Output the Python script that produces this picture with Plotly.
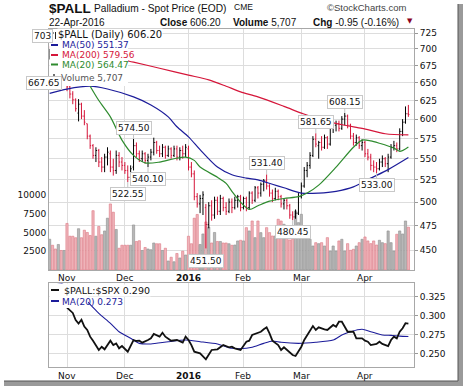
import math
import pandas as pd
import plotly.graph_objects as go

# ---------------- data ----------------
HOLIDAYS = {"2015-11-26", "2015-12-25", "2016-01-01", "2016-01-18", "2016-02-15", "2016-03-25"}
DATES = [d for d in pd.bdate_range("2015-10-23", "2016-04-22") if d.strftime("%Y-%m-%d") not in HOLIDAYS]

OPEN = [688, 696, 690, 680, 686, 676,
        662, 644, 634, 626, 608, 620, 604, 594, 578, 566, 554, 560, 546, 540, 552, 556, 540, 536, 554, 546,
        542, 536, 528, 540, 566, 556, 550, 556, 548, 552, 558, 570, 560, 556, 564, 554, 562, 554, 562, 552,
        560, 556, 562, 540, 532, 506, 498, 504, 494, 476, 496, 486, 502, 490, 504, 494, 490, 500, 494, 502,
        506, 494, 504, 494, 510, 502, 516, 510, 520, 524, 518, 510, 504, 512, 506, 498, 502, 496, 486, 484,
        488, 506, 518, 536, 542, 554, 574, 566, 570, 564, 576, 568, 590, 592, 594, 588, 600, 604, 592, 578,
        570, 576, 566, 570, 556, 552, 542, 540, 538, 546, 550, 544, 552, 564, 566, 562, 584, 596, 607]
HIGH = [700, 703, 694, 690, 690, 684,
        664, 650, 638, 628, 627, 622, 612, 594, 580, 568, 564, 562, 552, 556, 564, 560, 550, 560, 558, 552,
        546, 542, 542, 574.5, 570, 560, 560, 558, 556, 562, 576, 572, 566, 568, 566, 566, 564, 566, 566, 564,
        566, 568, 566, 546, 536, 510, 508, 512, 498, 500, 502, 506, 506, 508, 506, 500, 504, 504, 506, 508,
        508, 506, 506, 512, 512, 518, 518, 522, 526, 531.4, 520, 514, 516, 514, 508, 504, 504, 498, 490, 492,
        510, 522, 540, 546, 558, 578, 581.65, 572, 578, 580, 578, 594, 596, 598, 598, 604, 608.15, 606, 594, 582,
        580, 578, 574, 572, 562, 556, 548, 546, 550, 554, 552, 556, 568, 572, 570, 588, 600, 617, 619]
LOW = [684, 686, 676, 667.65, 672, 668,
       638, 628, 620, 610, 597, 600, 592, 574, 562, 550, 546, 540, 534, 534, 542, 534, 530, 532, 540, 536,
       532, 522.55, 525, 536, 552, 546, 546, 544, 540.1, 548, 554, 556, 552, 552, 550, 552, 550, 552, 548, 548,
       550, 552, 536, 528, 502, 494, 488, 486, 451.5, 472, 480, 482, 486, 486, 490, 486, 488, 488, 492, 494,
       490, 492, 490, 492, 498, 500, 504, 506, 512, 514, 506, 500, 502, 502, 494, 492, 492, 482, 480.45, 482,
       486, 504, 516, 528, 538, 552, 564, 550, 560, 562, 562, 566, 582, 584, 584, 586, 592, 588, 574, 566,
       566, 562, 560, 552, 548, 536, 534, 533, 536, 540, 540, 534, 550, 560, 558, 560, 578, 594, 603]
CLOSE = [696, 690, 680, 686, 676, 680,
         644, 634, 626, 614, 620, 604, 596, 578, 566, 554, 560, 546, 540, 552, 558, 540, 536, 554, 546, 542,
         536, 528, 538, 566, 556, 550, 556, 548, 552, 558, 570, 560, 556, 564, 554, 562, 554, 562, 552, 560,
         556, 564, 540, 532, 506, 498, 504, 508, 476, 496, 486, 502, 490, 504, 494, 490, 500, 494, 502, 506,
         494, 504, 494, 510, 502, 516, 510, 520, 524, 518, 510, 504, 512, 506, 498, 502, 496, 486, 484, 488,
         506, 518, 536, 542, 554, 574, 568, 570, 564, 576, 568, 590, 592, 594, 588, 600, 604, 592, 578, 570,
         576, 566, 570, 556, 552, 542, 540, 538, 546, 550, 544, 552, 564, 566, 562, 584, 596, 607.15, 606.2]
VOLUME = [4100, 3300, 2800, 3400, 2600, 2600,
          6200, 4500, 4500, 4300, 5500, 4300, 5300, 5000, 4600, 7900, 4500, 5800, 4700, 5200, 6900, 8800, 7700,
          5400, 2900, 3300, 3300, 3300, 3300, 6000, 3800, 3900, 2600, 3000, 2800, 2700, 3600, 3500, 3500, 2600,
          2900, 1200, 1700, 1100, 2200, 1600, 2500, 2000, 4500, 3500, 6900, 7400, 3400, 4800, 6400, 5700, 3600,
          5000, 3800, 3800, 3600, 3600, 3500,
          3290, 3330, 3870, 3960, 3870, 5640, 5200, 6530, 4310, 6530, 4980, 4310, 5640, 4980, 4530, 4530, 6760,
          6530, 6090, 4530, 4000, 4090, 7870, 6310, 7420, 4980, 4760, 4090, 3200, 3640, 3510, 3640, 3200, 4310,
          2530, 3200, 2530, 3870, 4090, 2530, 3510, 2620, 2760, 3200, 3640, 4090, 4400, 3870, 3510, 3870, 3330,
          3960, 3640, 3510, 5200, 3640, 2530, 4760, 5200, 4800, 6530, 5707]

# moving averages / ratio, at trading-day offsets from 2 Nov 2015
MA200_DAY = [-6, 5, 15, 23, 32, 42, 49, 55, 60, 66, 75, 81, 87, 96, 102, 110, 118]
MA200_VAL = [703, 696, 688, 680, 671, 661, 654, 645, 637, 630, 617, 608, 600, 592, 588, 581, 579.56]
MA50_DAY = [-6, 0, 8, 14, 23, 29, 35, 38, 42, 46, 52, 57, 62, 66, 71, 75, 81, 87, 93, 99, 105, 111, 118]
MA50_VAL = [635, 641, 645, 641, 630, 619, 603, 590, 577, 561, 540, 531, 527, 525, 520, 516, 510, 510, 512, 517,
            527, 537, 551.37]
MA20_DAY = [8, 11, 15, 19, 23, 27, 32, 37, 41, 44, 46, 52, 55, 57, 60, 63, 66, 70, 75, 80, 83, 87, 93, 99, 102,
            105, 108, 113, 115, 118]
MA20_VAL = [645, 625, 603, 573, 554, 545, 546, 550, 552, 548, 540, 528, 521, 512, 500, 492, 496, 501, 504, 506,
            510, 519, 540, 564, 573, 572, 569, 563, 559, 564.47]

RATIO_DAY = [0, 2, 3, 4, 5, 6, 7, 8, 9, 11, 12, 13, 15, 16, 17, 18, 19, 21, 23, 24, 25, 26, 28, 29, 30, 32, 33,
             34, 36, 38, 40, 41, 42, 43, 44, 46, 48, 49, 50, 52, 54, 56, 57, 58, 60, 62, 63, 64, 66, 67, 68, 69,
             70, 71, 73, 74, 75, 77, 78, 79, 80, 81, 82, 83, 85, 86, 87, 89, 90, 92, 93, 94, 95, 96, 97, 99, 100,
             102, 103, 104, 105, 107, 108, 109, 111, 112, 113, 114, 115, 116, 117, 118]
RATIO_VAL = [.311, .304, .2947, .290, .295, .286, .2816, .2728, .2675, .2553, .2596, .2562, .2675, .2618, .264,
             .2575, .2605, .253, .2684, .2671, .2675, .2649, .2684, .2706, .2763, .2728, .278, .2728, .2675, .2684,
             .2649, .2728, .2684, .2618, .253, .2509, .243, .2487, .2553, .2562, .2618, .2588, .2596, .2575, .2553,
             .2662, .2675, .275, .278, .2793, .2825, .2851, .2772, .2675, .2618, .2553, .2588, .2517, .2487, .2474,
             .253, .2596, .2684, .275, .2868, .2816, .2851, .2825, .2816, .2882, .2859, .2925, .2925, .2859, .2793,
             .2793, .2706, .2706, .2675, .2662, .2618, .2632, .2662, .2632, .2605, .2684, .2728, .2706, .2793,
             .2838, .2905, .2900]
RATIO_MA_DAY = [-6, -2, 3, 7, 11, 15, 18, 22, 25, 29, 35, 41, 46, 52, 57, 62, 64, 68, 71, 74, 80, 86, 92, 95,
                98, 102, 105, 109, 112, 115, 118]
RATIO_MA_VAL = [.345, .343, .330, .3188, .3035, .2904, .2793, .2706, .264, .2632, .2662, .2684, .2662, .2632,
                .2575, .2575, .2588, .264, .2671, .2654, .264, .2654, .2684, .275, .2793, .2825, .2793, .275,
                .2745, .2735, .273]

PRICE_TICKS = list(range(450, 726, 25))
VOLUME_TICKS = [2500, 5000, 7500, 10000]
RATIO_TICKS = [0.250, 0.275, 0.300, 0.325]
MONTH_TEXT = {11: "Nov", 12: "Dec", 1: "<b>2016</b>", 2: "Feb", 3: "Mar", 4: "Apr"}
# (trading-day offset from 2 Nov 2015, 'high' or 'low') of the labelled turning points
MARKED = [(23, "high"), (28, "low"), (21, "low"), (48, "low"), (69, "high"), (78, "low"),
          (86, "high"), (96, "high"), (107, "low")]

# ---------------- helpers ----------------
N = len(DATES)
POS = list(range(N))
DAY0 = [d.strftime("%Y-%m-%d") for d in DATES].index("2015-11-02")
MONTH_POS = [i for i in range(1, N) if DATES[i].month != DATES[i - 1].month]
MONTH_LBL = [MONTH_TEXT[DATES[i].month] for i in MONTH_POS]
YEAR_POS = [i for i in MONTH_POS if DATES[i].month == 1][0]


def dpos(days):
    return [DAY0 + d for d in days]


RED = "#d5163a"
BLUE = "#1c1c9a"
GREEN = "#2e8b2e"
GRID = "#dddddd"
FONT = "DejaVu Sans"
HFONT = "Liberation Sans"


# pixel helpers for text/decoration placement (plot area x 49..414, y 29..367)
def PX(x):
    return (x - 49) / 365.0


def PY(y):
    return (367 - y) / 338.0


up = [True] + [CLOSE[i] >= CLOSE[i - 1] for i in range(1, N)]
vol_fill = ["#b7b7b7" if u else "#efb4ba" for u in up]
vol_line = ["#8f8f8f" if u else "#de7884" for u in up]

fig = go.Figure()

fig.add_trace(go.Bar(x=POS, y=VOLUME, xaxis="x", yaxis="y", width=0.78,
                     marker=dict(color=vol_fill, line=dict(color=vol_line, width=0.6)),
                     showlegend=False, hoverinfo="skip"))
fig.add_trace(go.Scatter(x=dpos(MA200_DAY), y=MA200_VAL, xaxis="x", yaxis="y3", mode="lines",
                         line=dict(color=RED, width=1.2, shape="spline", smoothing=0.8), showlegend=False))
fig.add_trace(go.Scatter(x=dpos(MA50_DAY), y=MA50_VAL, xaxis="x", yaxis="y3", mode="lines",
                         line=dict(color=BLUE, width=1.2, shape="spline", smoothing=0.8), showlegend=False))
fig.add_trace(go.Scatter(x=dpos(MA20_DAY), y=MA20_VAL, xaxis="x", yaxis="y3", mode="lines",
                         line=dict(color=GREEN, width=1.2, shape="spline", smoothing=0.8), showlegend=False))
fig.add_trace(go.Ohlc(x=POS, open=OPEN, high=HIGH, low=LOW, close=CLOSE, xaxis="x", yaxis="y3",
                      increasing=dict(line=dict(color="#000000", width=1)),
                      decreasing=dict(line=dict(color=RED, width=1)),
                      tickwidth=0.35, showlegend=False))

fig.add_trace(go.Scatter(x=dpos(RATIO_MA_DAY), y=RATIO_MA_VAL, xaxis="x2", yaxis="y2", mode="lines",
                         line=dict(color=BLUE, width=1.1, shape="spline", smoothing=0.6), showlegend=False))
fig.add_trace(go.Scatter(x=dpos(RATIO_DAY), y=RATIO_VAL, xaxis="x2", yaxis="y2", mode="lines",
                         line=dict(color="#111111", width=1.8), showlegend=False))

xr = [-0.22, 125.94]
axis_common = dict(range=xr, tickvals=MONTH_POS, showticklabels=False, showgrid=True, gridcolor=GRID,
                   gridwidth=1, showline=True, linecolor="#a8a8a8", mirror=True, ticks="",
                   zeroline=False, fixedrange=True, automargin=False)

price_lo, price_hi = 430.7, 731.4
fig.update_layout(
    width=464, height=387, margin=dict(l=49, r=50, t=29, b=20, pad=0, autoexpand=False),
    paper_bgcolor="white", plot_bgcolor="white",
    xaxis=dict(axis_common, domain=[0, 1], anchor="y", rangeslider=dict(visible=False)),
    xaxis2=dict(axis_common, domain=[0, 1], anchor="y2", matches="x"),
    yaxis=dict(domain=[0.287, 1], range=[0, 32100], side="left", tickvals=VOLUME_TICKS,
               ticktext=[str(v) for v in VOLUME_TICKS],
               showgrid=False, zeroline=False, showline=True, linecolor="#a8a8a8", mirror=True,
               ticks="", tickfont=dict(family=FONT, size=9, color="#111")),
    yaxis3=dict(overlaying="y", side="right", type="log",
                range=[math.log10(price_lo), math.log10(price_hi)], tickvals=PRICE_TICKS,
                ticktext=[str(v) for v in PRICE_TICKS],
                showgrid=True, gridcolor=GRID, zeroline=False, showline=False,
                ticks="outside", ticklen=3, tickcolor="#999",
                tickfont=dict(family=FONT, size=9, color="#111")),
    yaxis2=dict(domain=[0, 0.2485], range=[0.2329, 0.3434], side="right", tickvals=RATIO_TICKS,
                ticktext=[f"{t:.3f}" for t in RATIO_TICKS], showgrid=True, gridcolor=GRID,
                zeroline=False, showline=True, linecolor="#a8a8a8", mirror=True,
                ticks="outside", ticklen=3, tickcolor="#999",
                tickfont=dict(family=FONT, size=9, color="#111")),
    showlegend=False,
)

shapes = []
# darker year-boundary grid line in both panels
for xa, ya in (("x", "y"), ("x2", "y2")):
    shapes.append(dict(type="line", xref=xa, yref=f"{ya} domain", x0=YEAR_POS, x1=YEAR_POS, y0=0, y1=1,
                       line=dict(color="#b4b4b4", width=1), layer="below"))
# white legend backgrounds
shapes.append(dict(type="rect", xref="paper", yref="paper", x0=PX(49.5), x1=PX(128), y0=PY(86), y1=PY(29.5),
                   fillcolor="white", line=dict(width=0), layer="above"))
shapes.append(dict(type="rect", xref="paper", yref="paper", x0=PX(49.5), x1=PX(88), y0=PY(308), y1=PY(283.5),
                   fillcolor="white", line=dict(width=0), layer="above"))
# legend swatches
for yy, col in ((45, BLUE), (55, RED), (64.5, GREEN)):
    shapes.append(dict(type="line", xref="paper", yref="paper", x0=PX(51), x1=PX(58), y0=PY(yy), y1=PY(yy),
                       line=dict(color=col, width=2), layer="above"))
shapes.append(dict(type="line", xref="paper", yref="paper", x0=PX(51), x1=PX(59), y0=PY(290), y1=PY(290),
                   line=dict(color="#111", width=2), layer="above"))
shapes.append(dict(type="line", xref="paper", yref="paper", x0=PX(51), x1=PX(59), y0=PY(301), y1=PY(301),
                   line=dict(color=BLUE, width=2), layer="above"))
# ohlc icon
for x0, x1, y0, y1 in ((52, 52, 31, 40), (50, 52, 37, 37), (52, 54, 33, 33), (55.5, 55.5, 32, 39)):
    shapes.append(dict(type="line", xref="paper", yref="paper", x0=PX(x0), x1=PX(x1), y0=PY(y0), y1=PY(y1),
                       line=dict(color="#222", width=1), layer="above"))
# volume icon
for x0, x1, yt in ((50, 52, 77), (53, 55, 74), (56, 58, 76)):
    shapes.append(dict(type="rect", xref="paper", yref="paper", x0=PX(x0), x1=PX(x1), y0=PY(82), y1=PY(yt),
                       fillcolor="#707070", line=dict(width=0), layer="above"))
# card shadow
shapes.append(dict(type="rect", xref="paper", yref="paper", x0=PX(458), x1=PX(463), y0=PY(386), y1=PY(4),
                   fillcolor="#9a9a9a", line=dict(width=0), layer="above"))
shapes.append(dict(type="rect", xref="paper", yref="paper", x0=PX(4), x1=PX(463), y0=PY(386), y1=PY(381),
                   fillcolor="#9a9a9a", line=dict(width=0), layer="above"))
shapes.append(dict(type="line", xref="paper", yref="paper", x0=PX(458), x1=PX(458), y0=PY(381), y1=PY(4),
                   line=dict(color="#555", width=1), layer="above"))
shapes.append(dict(type="line", xref="paper", yref="paper", x0=PX(4), x1=PX(458), y0=PY(381), y1=PY(381),
                   line=dict(color="#555", width=1), layer="above"))
fig.update_layout(shapes=shapes)

ann = []


def txt(x, y, s, size=9, color="#111", family=FONT, anchor="left", bg=None, **kw):
    d = dict(xref="paper", yref="paper", x=PX(x), y=PY(y), text=s, showarrow=False, xanchor=anchor,
             yanchor="middle", font=dict(family=family, size=size, color=color), borderpad=0)
    if bg:
        d["bgcolor"] = bg
    d.update(kw)
    ann.append(d)


# month labels under both panels, at the first trading day of each month
for p, lbl in zip(MONTH_POS, MONTH_LBL):
    for yy in (277.5, 375.5):
        ann.append(dict(xref="x", yref="paper", x=p, y=PY(yy), text=lbl, showarrow=False, xanchor="center",
                        yanchor="middle", font=dict(family=FONT, size=9, color="#111")))

# turning-point labels (attached to bar highs / lows)
for day, kind in MARKED:
    k = DAY0 + day
    v = HIGH[k] if kind == "high" else LOW[k]
    ann.append(dict(xref="x", yref="y3", x=k, y=math.log10(v), text=f"{v:.2f}", showarrow=True,
                    arrowhead=0, arrowwidth=1, arrowcolor="#c4c4c4", ax=0, ay=-11 if kind == "high" else 12,
                    standoff=0, bgcolor="white", bordercolor="#c8c8c8", borderwidth=1, borderpad=1,
                    font=dict(family=FONT, size=9, color="#111")))
# labels pushed to the left edge
txt(42, 36, f"{max(HIGH):.0f}", size=9, anchor="center", bg="white", bordercolor="#c8c8c8", borderwidth=1,
    borderpad=1)
txt(44, 83, f"{min(LOW[:DAY0]):.2f}", size=9, anchor="center", bg="white", bordercolor="#c8c8c8",
    borderwidth=1, borderpad=1)

# legends
txt(57, 35, f"$PALL (Daily) {CLOSE[-1]:.2f}", size=10, bg="white")
txt(61, 45, f"MA(50) {MA50_VAL[-1]:.2f}", size=9, color=BLUE)
txt(61, 55, f"MA(200) {MA200_VAL[-1]:.2f}", size=9, color=RED)
txt(61, 64.5, f"MA(20) {MA20_VAL[-1]:.2f}", size=9, color=GREEN)
txt(60, 78, f"Volume {VOLUME[-1]:,}", size=9, color="#555")
txt(63, 290, f"$PALL:$SPX {RATIO_VAL[-1]:.3f}", size=9.5, bg="white")
txt(61, 301.5, f"MA(20) {RATIO_MA_VAL[-1]:.3f}", size=9, color=BLUE)

# header
chg = CLOSE[-1] - CLOSE[-2]
pct = chg / CLOSE[-2] * 100
txt(48, 8.5, "<b>$PALL</b>", size=13.5, family=HFONT)
txt(93, 9, "Palladium - Spot Price (EOD)", size=10.2, family=HFONT)
txt(233, 7.5, "CME", size=8.5, family=HFONT)
txt(326, 7.5, "©StockCharts.com", size=9.5, family=HFONT, color="#444")
txt(48, 22.5, DATES[-1].strftime("%d-%b-%Y"), size=10, family=HFONT)
txt(222, 22.5, f"<b>Close</b> {CLOSE[-1]:.2f}", size=10, family=HFONT, anchor="right")
txt(232, 22.5, f"<b>Volume</b> {VOLUME[-1]:,}", size=10, family=HFONT)
txt(312, 22.5, f"<b>Chg</b> {chg:.2f} ({pct:.2f}%)", size=10, family=HFONT)
txt(406, 21.5, "▼", size=7, family=FONT, color="#8b0022")

fig.update_layout(annotations=ann)
fig.write_html("out.html", config={"displayModeBar": False},
               post_script="document.body.style.margin='0';")
